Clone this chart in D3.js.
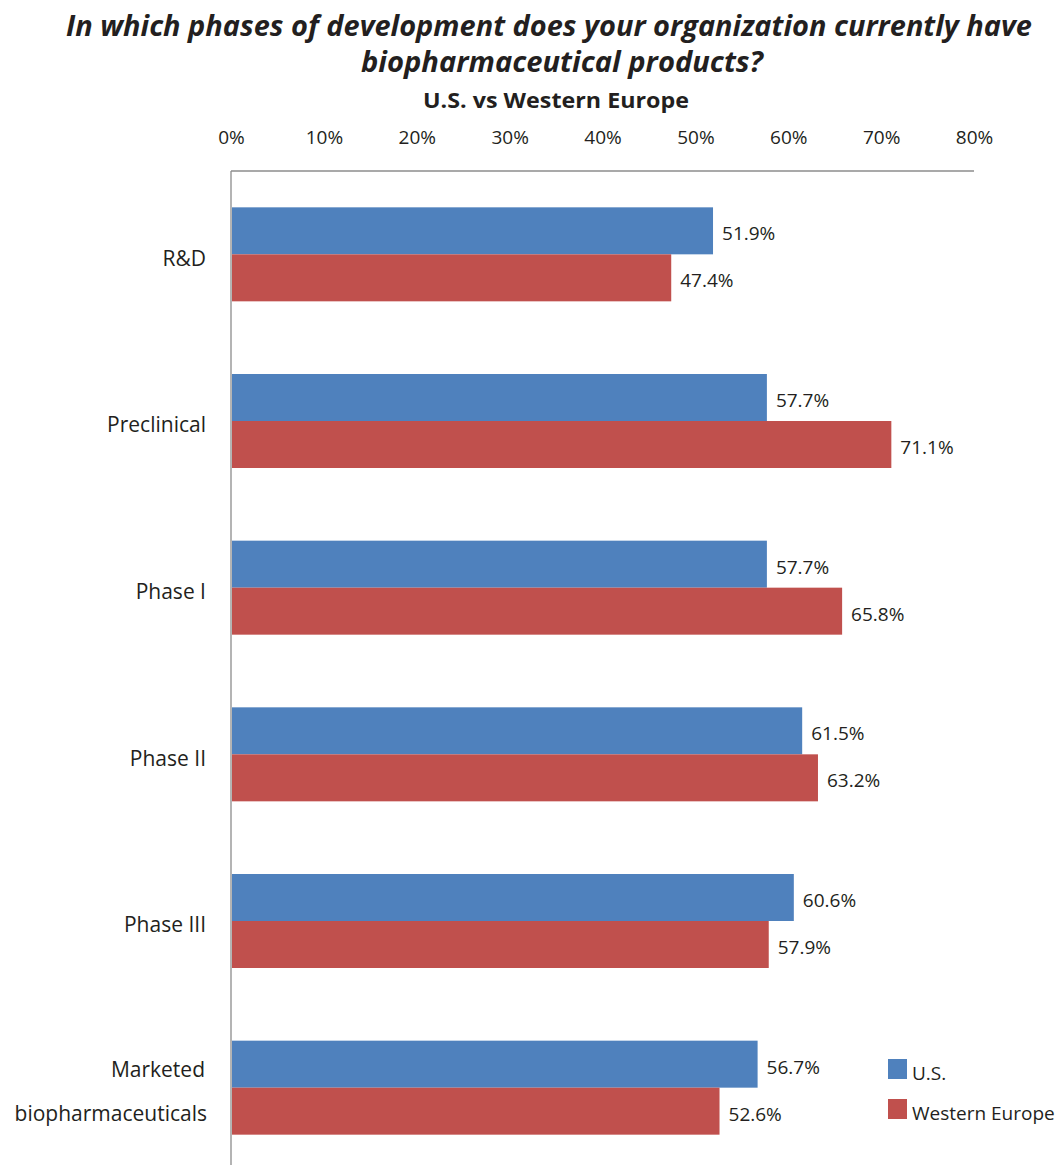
<!DOCTYPE html>
<html><head><meta charset="utf-8">
<script src="https://cdn.jsdelivr.net/npm/d3@7"></script>
<style>body{margin:0;background:#fff;} text{font-family:"Open Sans","Noto Sans",sans-serif;fill:#231f20;}</style>
</head><body>
<svg id="c" width="1058" height="1165"></svg>
<script>
const categories = ["R&D","Preclinical","Phase I","Phase II","Phase III","Marketed biopharmaceuticals"];
const seriesNames = ["U.S.","Western Europe"];
const usValues = [51.9,57.7,57.7,61.5,60.6,56.7];
const euValues = [47.4,71.1,65.8,63.2,57.9,52.6];
const tickValues = [0,10,20,30,40,50,60,70,80];
const colors = ["#4f81bd","#c0504d"];

(function(){
const svg = d3.select("#c");
const pLeft = 231, pRight = 974, pTop = 171, pBottom = 1171;
const x = d3.scaleLinear().domain([0,80]).range([pLeft,pRight]);
const y = d3.scaleBand().domain(categories).range([pTop,pBottom]).paddingInner(0.436).paddingOuter(0.218);
const inner = d3.scaleBand().domain(seriesNames).range([0,y.bandwidth()]);

function fitText(sel, w){ sel.attr("textLength", w).attr("lengthAdjust","spacingAndGlyphs"); }
svg.append("text").attr("x",549).attr("y",36).attr("text-anchor","middle")
  .style("font-size","28px").style("font-weight","bold").style("font-style","italic")
  .text("In which phases of development does your organization currently have").call(fitText,966);
svg.append("text").attr("x",562).attr("y",72).attr("text-anchor","middle")
  .style("font-size","28px").style("font-weight","bold").style("font-style","italic")
  .text("biopharmaceutical products?").call(fitText,402);
svg.append("text").attr("x",556).attr("y",108).attr("text-anchor","middle")
  .style("font-size","22px").style("font-weight","bold")
  .text("U.S. vs Western Europe").call(fitText,266);

const xAxis = d3.axisTop(x).tickValues(tickValues).tickFormat(d=>d+"%").tickSize(0).tickPadding(0);
const ax = svg.append("g").attr("transform",`translate(0,144)`).call(xAxis);
ax.select(".domain").remove();
ax.selectAll("text").style("font-size","19px").style("fill","#231f20").style("font-family",'"Open Sans","Noto Sans",sans-serif').attr("y",0).attr("dy",0);

svg.append("line").attr("x1",pLeft).attr("x2",pRight).attr("y1",pTop).attr("y2",pTop).attr("stroke","#8c8c8c").attr("stroke-width",1.3);
svg.append("line").attr("x1",pLeft).attr("x2",pLeft).attr("y1",pTop).attr("y2",1165).attr("stroke","#8c8c8c").attr("stroke-width",1.3);

const data = categories.map((c,i)=>({cat:c, vals:[usValues[i],euValues[i]]}));
const g = svg.selectAll("g.cat").data(data).join("g").attr("class","cat")
  .attr("transform",d=>`translate(0,${y(d.cat)})`);
g.selectAll("rect").data(d=>d.vals.map((v,j)=>({v,s:seriesNames[j],j}))).join("rect")
  .attr("x",x(0)+1).attr("y",d=>inner(d.s)).attr("height",inner.bandwidth())
  .attr("width",d=>x(d.v)-x(0)-1).attr("fill",d=>colors[d.j]);
g.selectAll("text.val").data(d=>d.vals.map((v,j)=>({v,s:seriesNames[j],j}))).join("text").attr("class","val")
  .attr("x",d=>x(d.v)+9).attr("y",d=>inner(d.s)+inner.bandwidth()/2+3).attr("dy","0.35em")
  .style("font-size","19px").text(d=>d.v.toFixed(1)+"%");

g.each(function(d){
  const t = d3.select(this);
  const cy = y.bandwidth()/2;
  if(d.cat.startsWith("Marketed")){
    t.append("text").attr("x",205).attr("y",cy-18).attr("dy","0.35em").attr("text-anchor","end").style("font-size","21px").text("Marketed");
    t.append("text").attr("x",207).attr("y",cy+26).attr("dy","0.35em").attr("text-anchor","end").style("font-size","21px").text("biopharmaceuticals");
  } else {
    t.append("text").attr("x",206).attr("y",cy+4).attr("dy","0.35em").attr("text-anchor","end").style("font-size","21px").text(d.cat);
  }
});

const lg = svg.append("g");
seriesNames.forEach((s,i)=>{
  lg.append("rect").attr("x",888).attr("y",1059+i*40).attr("width",19).attr("height",20).attr("fill",colors[i]);
  lg.append("text").attr("x",912).attr("y",1069+i*40+4).attr("dy","0.35em").style("font-size","19px").text(s);
});
})();
</script>
</body></html>
